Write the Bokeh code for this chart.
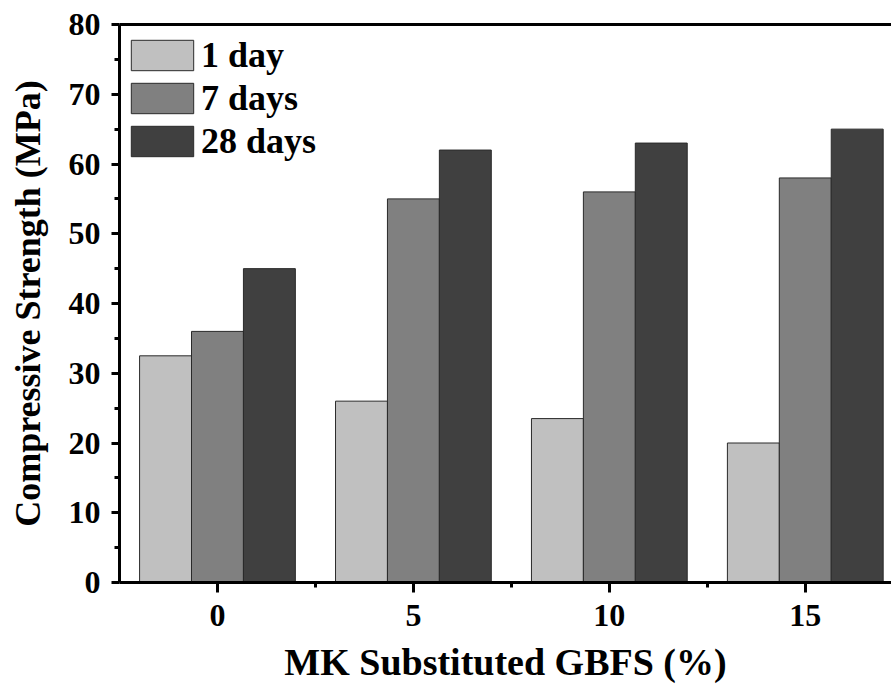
from bokeh.plotting import figure
from bokeh.models import (ColumnDataSource, Range1d, FixedTicker, LinearAxis,
                          Legend, LegendItem)
from bokeh.transform import dodge
from bokeh.embed import file_html
from bokeh.resources import INLINE

# ---- data ----
categories = ["0", "5", "10", "15"]
day1 = [32.5, 26, 23.5, 20]
day7 = [36, 55, 56, 58]
day28 = [45, 62, 63, 65]
series_names = ["1 day", "7 days", "28 days"]
y_ticks = [0, 10, 20, 30, 40, 50, 60, 70, 80]

idx = list(range(len(categories)))
source = ColumnDataSource(dict(x=idx, d1=day1, d7=day7, d28=day28))

FONT = "Liberation Serif"
bw = 0.265

p = figure(frame_width=772, frame_height=558, output_backend="svg",
           toolbar_location=None, x_range=Range1d(-0.5, 3.44),
           y_range=Range1d(0, 80),
           min_border_left=119, min_border_right=0, min_border_top=24,
           min_border_bottom=100)
p.outline_line_color = None
p.xgrid.visible = False
p.ygrid.visible = False
p.background_fill_color = "white"
p.border_fill_color = "white"

colors = ["#c0c0c0", "#808080", "#404040"]
offsets = [-bw, 0, bw]
cols = ["d1", "d7", "d28"]
renderers = []
for c, off, col in zip(cols, offsets, colors):
    r = p.vbar(x=dodge("x", off, range=p.x_range), top=c, width=bw, bottom=0,
               source=source, fill_color=col, line_color="#2a2a2a",
               line_width=1)
    renderers.append(r)

# x axis
xa = p.xaxis[0]
xa.ticker = FixedTicker(ticks=idx, minor_ticks=[i + 0.5 for i in idx])
xa.major_label_overrides = {i: c for i, c in zip(idx, categories)}
xa.axis_label = "MK Substituted GBFS (%)"
# y axis
ya = p.yaxis[0]
ya.ticker = FixedTicker(ticks=y_ticks, minor_ticks=[t + 5 for t in y_ticks[:-1]])
ya.axis_label = "Compressive Strength (MPa)"

for ax in (xa, ya):
    ax.axis_line_width = 3
    ax.axis_line_color = "black"
    ax.major_tick_line_width = 3
    ax.minor_tick_line_width = 3
    ax.major_tick_in = 0
    ax.minor_tick_in = 0
    ax.major_label_text_font = FONT
    ax.major_label_text_font_style = "bold"
    ax.major_label_text_font_size = "32px"
    ax.major_label_text_color = "black"
    ax.axis_label_text_font = FONT
    ax.axis_label_text_font_style = "bold"
    ax.axis_label_text_color = "black"

xa.axis_label_text_font_size = "38px"
ya.axis_label_text_font_size = "36px"
xa.major_tick_out = 10
xa.minor_tick_out = 5
xa.major_label_standoff = 12
xa.axis_label_standoff = 12
ya.major_tick_out = 8
ya.minor_tick_out = 5
ya.major_label_standoff = 11
ya.axis_label_standoff = 18

top_axis = LinearAxis(ticker=FixedTicker(ticks=[]), axis_line_width=3,
                      axis_line_color="black", major_tick_out=0,
                      major_tick_in=0, minor_tick_out=0, minor_tick_in=0,
                      major_label_text_font_size="0px")
p.add_layout(top_axis, "above")

legend = Legend(items=[LegendItem(label=n, renderers=[r])
                       for n, r in zip(series_names, renderers)],
                location=(4, 420))
legend.label_text_font = FONT
legend.label_text_font_style = "bold"
legend.label_text_font_size = "36px"
legend.label_text_color = "black"
legend.glyph_width = 78
legend.glyph_height = 38
legend.label_standoff = 0
legend.spacing = 1
legend.padding = 1
legend.margin = 0
legend.border_line_color = None
legend.background_fill_alpha = 0
p.add_layout(legend)

open("out.html", "w").write(file_html(p, INLINE))
